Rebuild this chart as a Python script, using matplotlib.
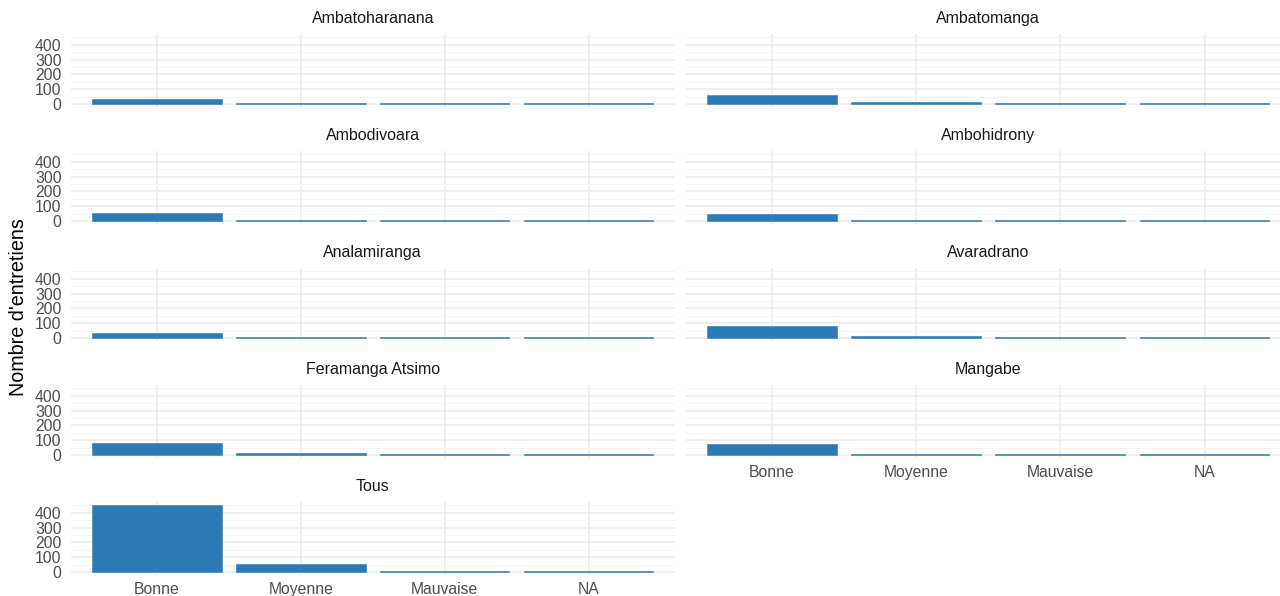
import matplotlib
matplotlib.use("Agg")
import matplotlib.pyplot as plt
import numpy as np

plt.rcParams['font.family'] = ['Liberation Sans', 'DejaVu Sans']

categories = ["Bonne", "Moyenne", "Mauvaise", "NA"]
panels = ["Ambatoharanana", "Ambatomanga", "Ambodivoara", "Ambohidrony",
          "Analamiranga", "Avaradrano", "Feramanga Atsimo", "Mangabe", "Tous"]

ambatoharanana = [32, 4, 4, 4]
ambatomanga = [62, 13, 4, 4]
ambodivoara = [52, 4, 4, 4]
ambohidrony = [50, 4, 4, 4]
analamiranga = [37, 9, 4, 4]
avaradrano = [80, 11, 5, 4]
feramanga_atsimo = [80, 11, 5, 4]
mangabe = [72, 4, 4, 4]
tous = [452, 52, 5, 5]

values = [ambatoharanana, ambatomanga, ambodivoara, ambohidrony,
          analamiranga, avaradrano, feramanga_atsimo, mangabe, tous]

y_ticks = [0, 100, 200, 300, 400]
ylabel = "Nombre d'entretiens"

W, H = 1280, 596
fig = plt.figure(figsize=(W / 100, H / 100), dpi=100)

bar_color = "#2C7BB6"
grid_major = "#EBEBEB"
grid_minor = "#F3F3F3"
text_col = "#4D4D4D"

ymax = max(max(v) for v in values)
ylo, yhi = -0.05 * ymax, 1.05 * ymax

col_x = [(70.7, 674.8), (685.5, 1291)]
panel_top0 = 33.7
panel_h = 73.7
row_step = 117

x = np.arange(len(categories))
for i, (name, vals) in enumerate(zip(panels, values)):
    r, c = divmod(i, 2)
    x0, x1 = col_x[c]
    top = panel_top0 + r * row_step
    ax = fig.add_axes([x0 / W, 1 - (top + panel_h) / H, (x1 - x0) / W, panel_h / H])
    ax.set_axisbelow(True)
    ax.bar(x, vals, width=0.9, color=bar_color, edgecolor=bar_color,
           linewidth=0.4, zorder=3)
    ax.set_xlim(-0.6, len(categories) - 1 + 0.6)
    ax.set_ylim(ylo, yhi)
    ax.set_yticks(y_ticks)
    ax.set_yticks([50, 150, 250, 350, 450], minor=True)
    ax.set_xticks(x)
    ax.grid(True, which="major", color=grid_major, linewidth=1.1, zorder=0)
    ax.grid(True, which="minor", axis="y", color=grid_minor, linewidth=0.6, zorder=0)
    for s in ax.spines.values():
        s.set_visible(False)
    ax.tick_params(which="both", length=0)
    ax.tick_params(axis="y", labelsize=11.3, labelcolor=text_col, pad=6.5)
    ax.tick_params(axis="x", labelsize=11.3, labelcolor=text_col, pad=5)
    if c == 0:
        ax.set_yticklabels([str(t) for t in y_ticks])
    else:
        ax.set_yticklabels([])
    show_x = (i == len(panels) - 1) or (i == len(panels) - 2)
    if show_x:
        ax.set_xticklabels(categories)
    else:
        ax.set_xticklabels([])
    ax.set_title(name, fontsize=11.5, color="#1A1A1A", pad=8)

fig.text(19 / W, 1 - 307 / H, ylabel, rotation=90, fontsize=14.2,
         ha="center", va="center", color="black")

fig.savefig("out.png", dpi=100, facecolor="white")
